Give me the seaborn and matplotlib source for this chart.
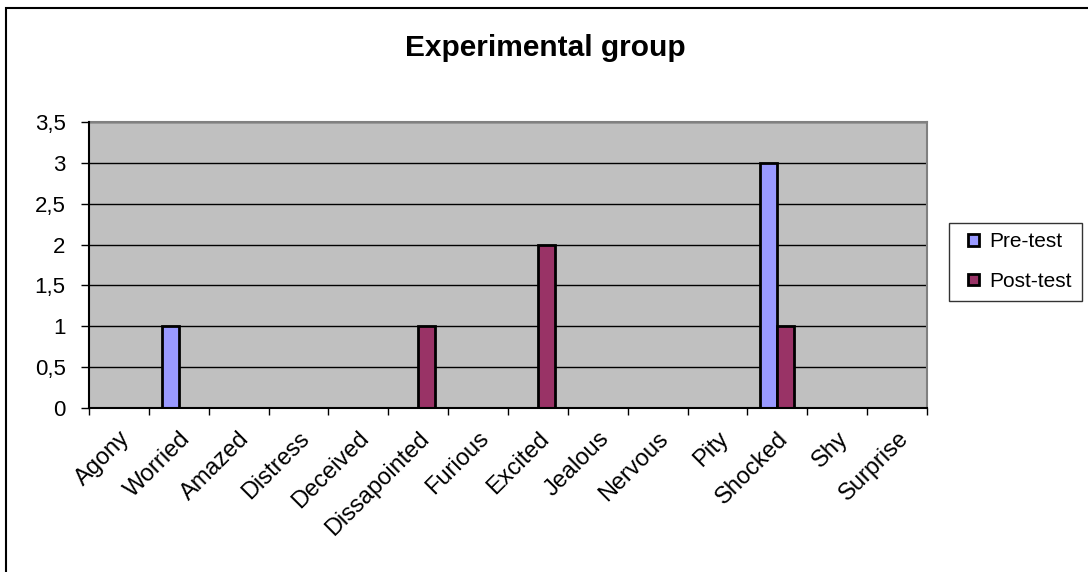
import pandas as pd
import matplotlib
matplotlib.use("Agg")
import matplotlib.pyplot as plt
from matplotlib.patches import Rectangle, Patch
from matplotlib.legend_handler import HandlerPatch
from matplotlib.ticker import FuncFormatter, MultipleLocator, FixedLocator, NullFormatter
import seaborn as sns

# Emotion words and how often each was chosen, before and after the test
emotions = ["Agony", "Worried", "Amazed", "Distress", "Deceived", "Dissapointed",
            "Furious", "Excited", "Jealous", "Nervous", "Pity", "Shocked", "Shy", "Surprise"]
pre_test = [0, 1, 0, 0, 0, 0, 0, 0, 0, 0, 0, 3, 0, 0]
post_test = [0, 0, 0, 0, 0, 1, 0, 2, 0, 0, 0, 1, 0, 0]
series = ["Pre-test", "Post-test"]
colors = ["#9999FF", "#993366"]
title = "Experimental group"

df = pd.DataFrame({
    "emotion": emotions * 2,
    "count": pre_test + post_test,
    "test": [series[0]] * len(emotions) + [series[1]] * len(emotions),
})
# zero counts leave no visible bar
bars = df[df["count"] > 0]

sns.set_theme(style="white")
plt.rcParams["font.family"] = ["Liberation Sans", "DejaVu Sans"]
plt.rcParams["text.color"] = "black"
plt.rcParams["xtick.color"] = "black"
plt.rcParams["ytick.color"] = "black"
plt.rcParams["xtick.labelcolor"] = "black"
plt.rcParams["ytick.labelcolor"] = "black"

W, H = 1088, 572
fig = plt.figure(figsize=(W / 100, H / 100), dpi=100)
fig.patch.set_facecolor("white")

# outer chart frame
fig.patches.append(Rectangle((6 / W, -0.2), 2.0, 1 - 8 / H + 0.2, transform=fig.transFigure,
                             facecolor="none", edgecolor="black", linewidth=1.5))

ax = fig.add_axes([89 / W, 164 / H, 838 / W, 286 / H])
ax.set_facecolor("#C0C0C0")

sns.barplot(data=bars, x="emotion", y="count", hue="test", order=emotions,
            hue_order=series, palette=colors, saturation=1, width=0.57, gap=0,
            edgecolor="black", linewidth=2, legend=False, ax=ax)

ax.set_xlim(-0.5, len(emotions) - 0.5)
ax.set_ylim(0, 3.5)
ax.set_xlabel("")
ax.set_ylabel("")

ax.yaxis.set_major_locator(MultipleLocator(0.5))
ax.yaxis.set_major_formatter(FuncFormatter(lambda v, p: f"{v:g}".replace(".", ",")))
ax.yaxis.grid(True, color="black", linewidth=1)
ax.set_axisbelow(True)

ax.xaxis.set_minor_locator(FixedLocator([i - 0.5 for i in range(len(emotions) + 1)]))
ax.xaxis.set_minor_formatter(NullFormatter())
ax.tick_params(axis="x", which="minor", bottom=True, length=5, width=1, color="black", direction="out")
ax.tick_params(axis="x", which="major", bottom=True, length=0, pad=14, labelcolor="black")
ax.tick_params(axis="y", which="major", left=True, length=5.8, width=1, color="black",
               direction="out", pad=11, labelsize=16, labelcolor="black")
ax.set_xticks(range(len(emotions)))
ax.set_xticklabels(emotions, rotation=45, ha="right", va="top", rotation_mode="anchor",
                   fontsize=17, color="black")

for side in ["left", "bottom"]:
    ax.spines[side].set_color("black")
    ax.spines[side].set_linewidth(1.5)
    ax.spines[side].set_zorder(5)
for side in ["top", "right"]:
    ax.spines[side].set_color("#808080")
    ax.spines[side].set_linewidth(1.5)

fig.text(545 / W, 1 - 48 / H, title, ha="center", va="center", fontsize=21.5,
         fontweight="bold", color="black")


def square_key(legend, orig_handle, xdescent, ydescent, width, height, fontsize):
    side = 8
    return Rectangle((-xdescent + width - side, -ydescent + (height - side) / 2), side, side)


handles = [Patch(facecolor=c, edgecolor="black", linewidth=2, label=s) for c, s in zip(colors, series)]
leg = fig.legend(handles=handles, loc="upper left", bbox_to_anchor=(949 / W, 1 - 223 / H),
                 frameon=True, fancybox=False, edgecolor="black", fontsize=15,
                 handlelength=1.0, handleheight=0.55, handletextpad=0.5,
                 borderpad=0.45, labelspacing=1.0, borderaxespad=0,
                 handler_map={Patch: HandlerPatch(patch_func=square_key)})
leg.get_frame().set_linewidth(1)
for t in leg.get_texts():
    t.set_color("black")

fig.savefig("out.png", dpi=100, facecolor="white")
